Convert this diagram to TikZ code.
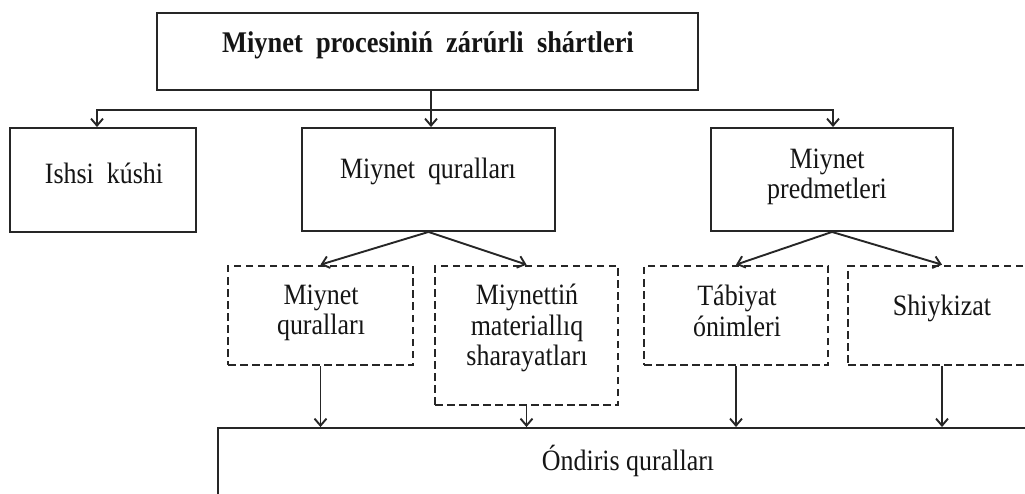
\documentclass[tikz,border=0pt]{standalone}
\usepackage{fontspec}
\setmainfont{Liberation Serif}[FakeStretch=0.88]
\usetikzlibrary{arrows.meta}
\definecolor{ink}{HTML}{151515}
\definecolor{edge}{HTML}{262626}
\tikzset{
  solidbox/.style={draw=edge, line width=1.9pt, inner sep=0pt},
  dashbox/.style={draw=edge, line width=2.7pt, dash pattern=on 7.5pt off 4.5pt, inner sep=0pt},
  txt/.style={text=ink, align=center, inner sep=0pt, font=\fontsize{29.5}{30.5}\selectfont},
  ttl/.style={text=ink, align=center, inner sep=0pt, font=\fontsize{30}{31}\selectfont\bfseries},
  conn/.style={draw=edge, line width=1.9pt},
  arr/.style={conn, -{Straight Barb[length=7pt,width=12pt]}},
}
\begin{document}
\begin{tikzpicture}[x=1pt,y=-1pt]
\useasboundingbox (0,0) rectangle (1025,494);
\clip (0,0) rectangle (1025,494);
\fill[white] (0,0) rectangle (1025,494);
% level 0
\node[solidbox, minimum width=541pt, minimum height=77pt] (top) at (427.5,51.5) {};
\node[ttl] (topt) at (428,45) {Miynet\ \ procesiniń\ \ zárúrli\ \ shártleri};
% level 1
\node[solidbox, minimum width=186pt, minimum height=104pt] (ishsi) at (103,180) {};
\node[txt] (ishsit) at (104,173) {Ishsi\ \ kúshi};
\node[solidbox, minimum width=253pt, minimum height=103pt] (qur) at (428.5,179.5) {};
\node[txt] (qurt) at (428,171) {Miynet\ \ quralları};
\node[solidbox, minimum width=242pt, minimum height=103pt] (pred) at (832,179.5) {};
\node[txt] (predt) at (827,177) {Miynet\\predmetleri};
% level 2
\node[dashbox, minimum width=185pt, minimum height=99pt] (d1) at (320.5,315.5) {};
\node[txt] (d1t) at (321,313) {Miynet\\quralları};
\node[dashbox, minimum width=183pt, minimum height=139pt] (d2) at (526.5,335.5) {};
\node[txt] (d2t) at (527,328) {Miynettiń\\materiallıq\\sharayatları};
\node[dashbox, minimum width=184pt, minimum height=99pt] (d3) at (736,315.5) {};
\node[txt] (d3t) at (737,311) {Tábiyat\\ónimleri};
\node[dashbox, minimum width=188pt, minimum height=99pt] (d4) at (942,315.5) {};
\node[txt] (d4t) at (942,308) {Shiykizat};
% level 3
\node[solidbox, minimum width=822pt, minimum height=100pt] (bot) at (629,478) {};
\node[txt] (bott) at (628,461) {Óndiris\ quralları};
% connectors
\coordinate (stem) at (431,110);
\coordinate (barL) at (97,110);
\coordinate (barR) at (833,110);
\draw[conn] (top.south -| stem) -- (stem);
\draw[arr] (stem) -- (stem |- qur.north);
\draw[arr] (stem) -| (barL |- ishsi.north);
\draw[arr] (stem) -| (barR |- pred.north);
\draw[arr] (qur.south) -- (d1.north);
\draw[arr] (qur.south) -- (d2.north);
\draw[arr] (pred.south) -- (d3.north);
\draw[arr] (pred.south) -- (d4.north);
\draw[arr] (d1.south) -- (d1.south |- bot.north);
\draw[arr] (d2.south) -- (d2.south |- bot.north);
\draw[arr] (d3.south) -- (d3.south |- bot.north);
\draw[arr] (d4.south) -- (d4.south |- bot.north);
\end{tikzpicture}
\end{document}
